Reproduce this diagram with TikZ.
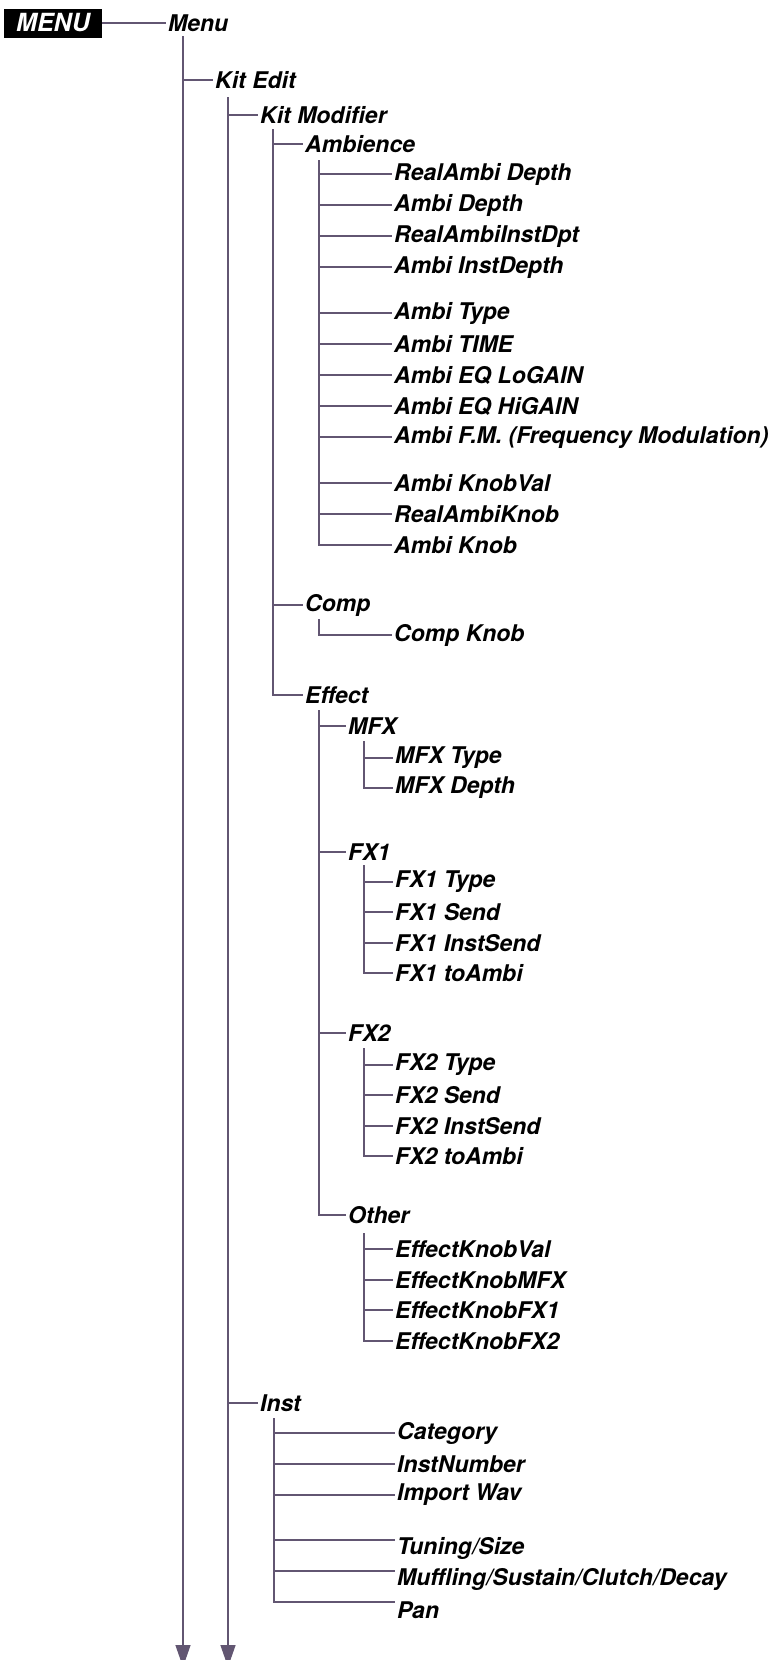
\documentclass[tikz,border=0pt]{standalone}
\usepackage{fontspec}
\setmainfont{TeX Gyre Heros}
\usetikzlibrary{arrows.meta}
\definecolor{treeline}{RGB}{98,86,114}
\tikzset{
  item/.style={anchor=west,inner sep=2pt,font=\bfseries\itshape\fontsize{23}{27}\selectfont},
  branch/.style={draw=treeline,line width=1.3pt},
  down/.style={branch,-{Triangle[width=15pt,length=22pt]}}
}

\begin{document}
\begin{tikzpicture}[x=1pt,y=-1pt]
		\useasboundingbox (0,0) rectangle (781,1660);
		% top
		\node[fill=black,text=white,minimum width=98pt,minimum height=29pt,inner sep=0pt,font=\bfseries\itshape\fontsize{25}{28}\selectfont] (mbox) at (53,23) {MENU};
		\node[item] (menu) at (166,23) {Menu};
		\node[item] (kitedit) at (213,80) {Kit Edit};
		\node[item] (kitmod) at (258,115) {Kit Modifier};
		\node[item] (inst) at (258,1403) {Inst};
		\node[item] (ambience) at (303,144) {Ambience};
		\node[item] (comp) at (303,605) {Comp};
		\node[item] (effect) at (303,695) {Effect};
		% ambience
		\node[item] (amb1) at (392,174) {RealAmbi Depth};
		\node[item] (amb2) at (392,205) {Ambi Depth};
		\node[item] (amb3) at (392,236) {RealAmbiInstDpt};
		\node[item] (amb4) at (392,267) {Ambi InstDepth};
		\node[item] (amb5) at (392,313) {Ambi Type};
		\node[item] (amb6) at (392,344) {Ambi TIME};
		\node[item] (amb7) at (392,375) {Ambi EQ LoGAIN};
		\node[item] (amb8) at (392,406) {Ambi EQ HiGAIN};
		\node[item] (amb9) at (392,437) {Ambi F.M. (Frequency Modulation)};
		\node[item] (amb10) at (392,483) {Ambi KnobVal};
		\node[item] (amb11) at (392,514) {RealAmbiKnob};
		\node[item] (amb12) at (392,545) {Ambi Knob};
		\node[item] (compknob) at (392,635) {Comp Knob};
		% effect
		\node[item] (mfx) at (346,726) {MFX};
		\node[item] (fxa) at (346,852) {FX1};
		\node[item] (fxb) at (346,1033) {FX2};
		\node[item] (other) at (346,1215) {Other};
		\node[item] (mfx1) at (393,758) {MFX Type};
		\node[item] (mfx2) at (393,788) {MFX Depth};
		\node[item] (fxa1) at (393,882) {FX1 Type};
		\node[item] (fxa2) at (393,912) {FX1 Send};
		\node[item] (fxa3) at (393,943) {FX1 InstSend};
		\node[item] (fxa4) at (393,973) {FX1 toAmbi};
		\node[item] (fxb1) at (393,1065) {FX2 Type};
		\node[item] (fxb2) at (393,1095) {FX2 Send};
		\node[item] (fxb3) at (393,1126) {FX2 InstSend};
		\node[item] (fxb4) at (393,1156) {FX2 toAmbi};
		\node[item] (oth1) at (393,1249) {EffectKnobVal};
		\node[item] (oth2) at (393,1280) {EffectKnobMFX};
		\node[item] (oth3) at (393,1310) {EffectKnobFX1};
		\node[item] (oth4) at (393,1341) {EffectKnobFX2};
		% inst
		\node[item] (ins1) at (395,1433) {Category};
		\node[item] (ins2) at (395,1464) {InstNumber};
		\node[item] (ins3) at (395,1495) {Import Wav};
		\node[item] (ins4) at (395,1548) {Tuning/Size};
		\node[item] (ins5) at (395,1579) {Muffling/Sustain/Clutch/Decay};
		\node[item] (ins6) at (395,1610) {Pan};
		\coordinate (menuend) at (183,1667);
		\coordinate (kitend) at (228,1667);

		\draw[branch] (mbox.east) -- (menu.west);
		\draw[down] ([shift={(17,13)}]menu.west) -- (menuend);
		\draw[down] ([shift={(15,17)}]kitedit.west) -- (kitend);
		\draw[branch] ([shift={(17,13)}]menu.west) |- (kitedit.west);
		\draw[branch] ([shift={(15,17)}]kitedit.west) |- (kitmod.west)
			([shift={(15,17)}]kitedit.west) |- (inst.west);
		\draw[branch] ([shift={(15,14)}]kitmod.west) |- (ambience.west)
			([shift={(15,14)}]kitmod.west) |- (comp.west)
			([shift={(15,14)}]kitmod.west) |- (effect.west);
		\draw[branch] ([shift={(16,16)}]ambience.west) |- (amb1.west)
			([shift={(16,16)}]ambience.west) |- (amb2.west)
			([shift={(16,16)}]ambience.west) |- (amb3.west)
			([shift={(16,16)}]ambience.west) |- (amb4.west)
			([shift={(16,16)}]ambience.west) |- (amb5.west)
			([shift={(16,16)}]ambience.west) |- (amb6.west)
			([shift={(16,16)}]ambience.west) |- (amb7.west)
			([shift={(16,16)}]ambience.west) |- (amb8.west)
			([shift={(16,16)}]ambience.west) |- (amb9.west)
			([shift={(16,16)}]ambience.west) |- (amb10.west)
			([shift={(16,16)}]ambience.west) |- (amb11.west)
			([shift={(16,16)}]ambience.west) |- (amb12.west);
		\draw[branch] ([shift={(16,14)}]comp.west) |- (compknob.west);
		\draw[branch] ([shift={(16,15)}]effect.west) |- (mfx.west)
			([shift={(16,15)}]effect.west) |- (fxa.west)
			([shift={(16,15)}]effect.west) |- (fxb.west)
			([shift={(16,15)}]effect.west) |- (other.west);
		\draw[branch] ([shift={(18,15)}]mfx.west) |- (mfx1.west)
			([shift={(18,15)}]mfx.west) |- (mfx2.west);
		\draw[branch] ([shift={(18,13)}]fxa.west) |- (fxa1.west)
			([shift={(18,13)}]fxa.west) |- (fxa2.west)
			([shift={(18,13)}]fxa.west) |- (fxa3.west)
			([shift={(18,13)}]fxa.west) |- (fxa4.west);
		\draw[branch] ([shift={(18,15)}]fxb.west) |- (fxb1.west)
			([shift={(18,15)}]fxb.west) |- (fxb2.west)
			([shift={(18,15)}]fxb.west) |- (fxb3.west)
			([shift={(18,15)}]fxb.west) |- (fxb4.west);
		\draw[branch] ([shift={(18,18)}]other.west) |- (oth1.west)
			([shift={(18,18)}]other.west) |- (oth2.west)
			([shift={(18,18)}]other.west) |- (oth3.west)
			([shift={(18,18)}]other.west) |- (oth4.west);
		\draw[branch] ([shift={(16,15)}]inst.west) |- (ins1.west)
			([shift={(16,15)}]inst.west) |- (ins2.west)
			([shift={(16,15)}]inst.west) |- (ins3.west)
			([shift={(16,15)}]inst.west) |- ([yshift=8pt]ins4.west)
			([shift={(16,15)}]inst.west) |- ([yshift=8pt]ins5.west)
			([shift={(16,15)}]inst.west) |- ([yshift=8pt]ins6.west);

	    \end{tikzpicture}
\end{document}
